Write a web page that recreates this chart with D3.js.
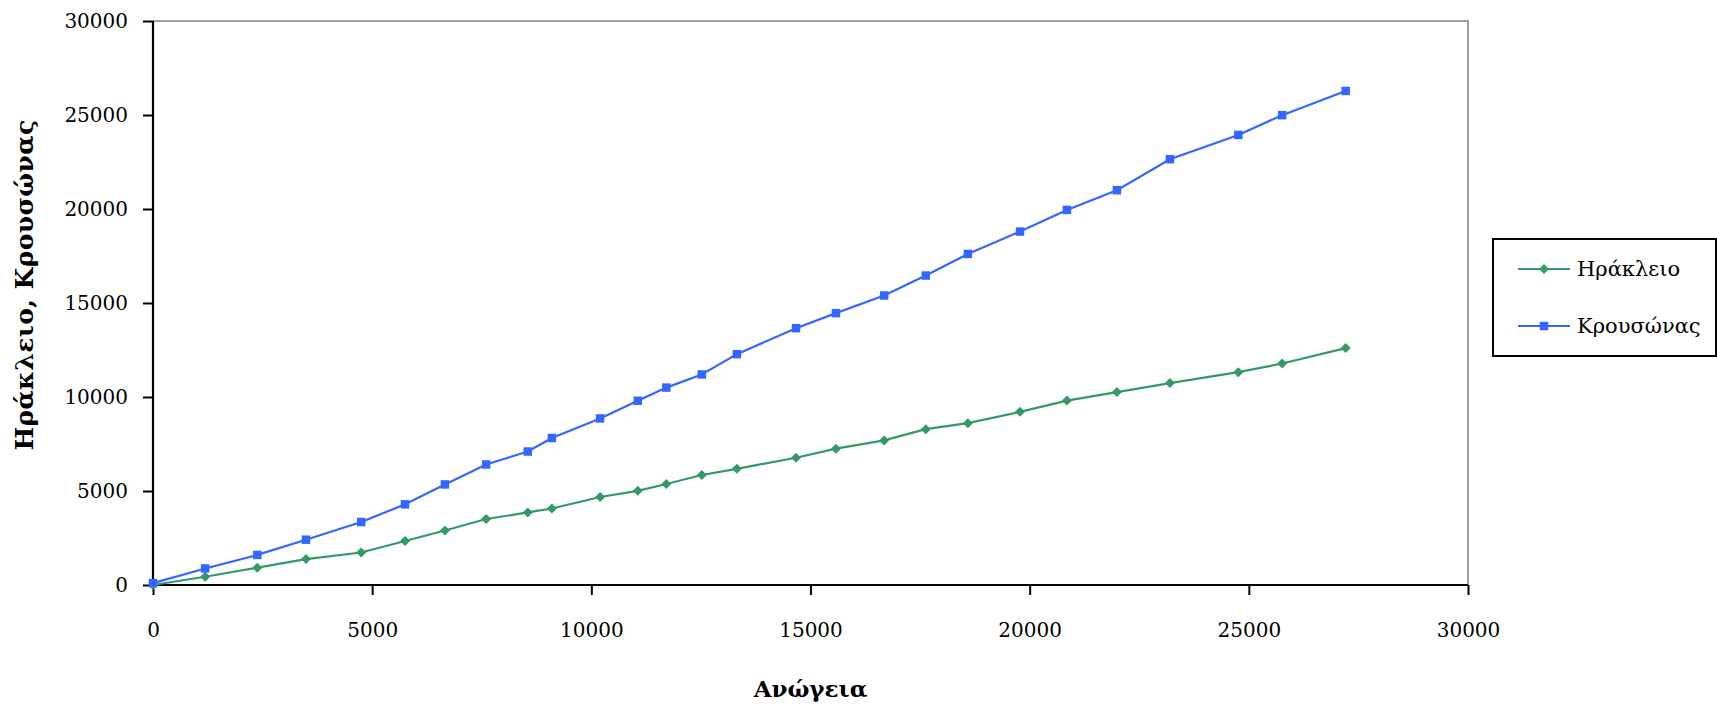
<!DOCTYPE html>
<html>
<head>
<meta charset="utf-8">
<script src="https://cdn.jsdelivr.net/npm/d3@7"></script>
<style>
  html, body { margin: 0; padding: 0; background: #fff; }
  svg { display: block; }
  text { font-family: "DejaVu Serif", "Liberation Serif", serif; fill: #000; }
</style>
</head>
<body>
<svg id="chart" width="1717" height="708"></svg>
<script>
// Cumulative values for Ανώγεια (x) against Ηράκλειο and Κρουσώνας (y)
const anogeia = [0, 1190, 2380, 3490, 4750, 5750, 6660, 7600, 8550, 9100, 10200, 11060, 11710, 12520, 13320, 14670, 15580, 16680, 17630, 18590, 19780, 20850, 21990, 23200, 24760, 25760, 27210];
const irakleio = [0, 440, 920, 1380, 1730, 2340, 2900, 3510, 3860, 4070, 4680, 5010, 5370, 5850, 6180, 6770, 7250, 7690, 8290, 8610, 9210, 9810, 10260, 10740, 11320, 11780, 12600];
const krousonas = [100, 880, 1600, 2410, 3350, 4290, 5350, 6410, 7100, 7820, 8860, 9800, 10500, 11200, 12280, 13660, 14460, 15400, 16460, 17610, 18800, 19950, 21000, 22650, 23940, 24990, 26280];

const xTicks = [0, 5000, 10000, 15000, 20000, 25000, 30000];
const yTicks = [0, 5000, 10000, 15000, 20000, 25000, 30000];

const seriesNames = ["Ηράκλειο", "Κρουσώνας"];
const seriesColors = ["#339966", "#3366ff"];
const xTitle = "Ανώγεια";
const yTitle = "Ηράκλειο, Κρουσώνας";

const svg = d3.select("#chart");
const plot = { left: 153, top: 21, right: 1468, bottom: 585 };

const x = d3.scaleLinear().domain([0, 30000]).range([plot.left, plot.right]);
const y = d3.scaleLinear().domain([0, 30000]).range([plot.bottom, plot.top]);

// Plot frame: grey top and right edges
svg.append("path")
  .attr("d", `M${plot.left},${plot.top}H${plot.right}V${plot.bottom}`)
  .attr("fill", "none").attr("stroke", "#a0a0a0").attr("stroke-width", 2);

// Axes
const fontSize = 20;
const xAxis = svg.append("g")
  .attr("transform", `translate(0,${plot.bottom})`)
  .call(d3.axisBottom(x).tickValues(xTicks).tickFormat(d3.format("d")).tickSize(10).tickPadding(28));
const yAxis = svg.append("g")
  .attr("transform", `translate(${plot.left},0)`)
  .call(d3.axisLeft(y).tickValues(yTicks).tickFormat(d3.format("d")).tickSize(10).tickPadding(15));

[xAxis, yAxis].forEach(g => {
  g.select(".domain").attr("stroke", "#000").attr("stroke-width", 2.2);
  g.selectAll(".tick line").attr("stroke", "#000").attr("stroke-width", 2);
  g.selectAll(".tick text")
    .style("font-family", '"DejaVu Serif", "Liberation Serif", serif')
    .style("font-size", fontSize + "px")
    .attr("fill", "#000");
});
xAxis.select(".domain").attr("d", `M${plot.left},0H${plot.right}`);
yAxis.select(".domain").attr("d", `M0,${plot.bottom}V${plot.top}`);

// Axis titles
svg.append("text")
  .attr("x", (plot.left + plot.right) / 2)
  .attr("y", 697)
  .attr("text-anchor", "middle")
  .style("font-size", "23px").style("font-weight", "bold")
  .text(xTitle);

svg.append("text")
  .attr("transform", `translate(33,${(plot.top + plot.bottom) / 2 - 18}) rotate(-90)`)
  .attr("text-anchor", "middle")
  .style("font-size", "25px").style("font-weight", "bold")
  .style("letter-spacing", "0.4px")
  .text(yTitle);

// Series: diamonds are squares turned by 45 degrees
const series = [irakleio, krousonas].map((vals, i) => ({
  name: seriesNames[i],
  color: seriesColors[i],
  rotate: i === 0 ? 45 : 0,
  size: i === 0 ? 50 : 72,
  points: vals.map((v, j) => [anogeia[j], v])
}));

const line = d3.line().x(d => x(d[0])).y(d => y(d[1]));
const marker = s => d3.symbol().type(d3.symbolSquare).size(s.size)();

series.forEach(s => {
  const g = svg.append("g");
  g.append("path")
    .attr("d", line(s.points))
    .attr("fill", "none")
    .attr("stroke", s.color)
    .attr("stroke-width", 2.2);
  g.selectAll("path.marker")
    .data(s.points)
    .join("path")
    .attr("class", "marker")
    .attr("transform", d => `translate(${x(d[0])},${y(d[1])}) rotate(${s.rotate})`)
    .attr("d", marker(s))
    .attr("fill", s.color);
});

// Legend
const legend = svg.append("g");
legend.append("rect")
  .attr("x", 1493).attr("y", 239)
  .attr("width", 223).attr("height", 117)
  .attr("fill", "#fff").attr("stroke", "#000").attr("stroke-width", 2);

series.forEach((s, i) => {
  const cy = 269 + i * 57;
  legend.append("line")
    .attr("x1", 1518).attr("x2", 1570)
    .attr("y1", cy).attr("y2", cy)
    .attr("stroke", s.color).attr("stroke-width", 2.2);
  legend.append("path")
    .attr("transform", `translate(1544,${cy}) rotate(${s.rotate})`)
    .attr("d", marker(s))
    .attr("fill", s.color);
  legend.append("text")
    .attr("x", 1577).attr("y", cy)
    .attr("dy", "0.35em")
    .style("font-size", "21px")
    .text(s.name);
});
</script>
</body>
</html>
